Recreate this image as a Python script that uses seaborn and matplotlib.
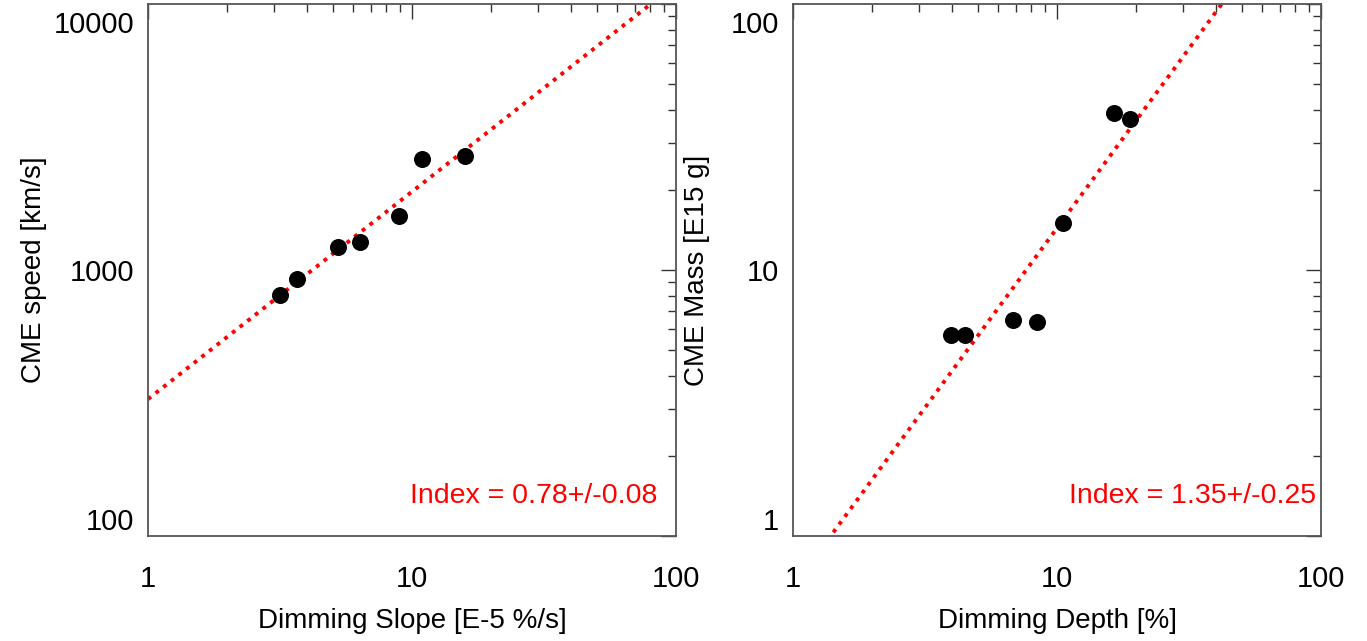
import numpy as np
import pandas as pd
import matplotlib
matplotlib.use("Agg")
import matplotlib.pyplot as plt
import matplotlib.transforms as mtrans
import seaborn as sns
from matplotlib.ticker import LogLocator, NullFormatter, FixedLocator, FixedFormatter

# ---- data ----
slope = [3.16, 3.68, 5.26, 6.35, 8.95, 10.94, 15.88]          # Dimming Slope [E-5 %/s]
speed = [805, 922, 1217, 1271, 1596, 2606, 2684]               # CME speed [km/s]
depth = [3.96, 4.48, 6.83, 8.42, 10.57, 16.4, 18.9]            # Dimming Depth [%]
mass = [5.70, 5.70, 6.49, 6.39, 14.98, 39.0, 36.97]            # CME Mass [E15 g]

fit_left = {"amp": 327.0, "index": 0.78, "err": 0.08}
fit_right = {"amp": 0.642, "index": 1.35, "err": 0.25}

x_ticks = [1, 10, 100]
left_yticks = [100, 1000, 10000]
right_yticks = [1, 10, 100]

sns.set_style("white")
plt.rcParams["font.family"] = ["Liberation Sans", "DejaVu Sans"]
plt.rcParams["text.color"] = "black"
plt.rcParams["axes.labelcolor"] = "black"
plt.rcParams["xtick.color"] = "black"
plt.rcParams["ytick.color"] = "black"

W, H = 1367, 641
fig = plt.figure(figsize=(W / 100, H / 100), dpi=100)

def add_axes(left_px, right_px, top_px, bottom_px):
    return fig.add_axes([left_px / W, 1 - bottom_px / H,
                         (right_px - left_px) / W, (bottom_px - top_px) / H])

ax1 = add_axes(148, 676, 4, 536)
ax2 = add_axes(793, 1321, 4, 536)

TICK_FS = 21
LABEL_FS = 20
INDEX_FS = 20.5

def panel(ax, x, y, fit, ylim, yticks, xlabel, ylabel, index_x):
    df = pd.DataFrame({"x": x, "y": y})
    sns.scatterplot(data=df, x="x", y="y", ax=ax, s=150, color="black",
                    edgecolor="black", linewidth=0, zorder=3)
    xf = np.logspace(0, 2, 200)
    fl = pd.DataFrame({"x": xf, "y": fit["amp"] * xf ** fit["index"]})
    sns.lineplot(data=fl, x="x", y="y", ax=ax, color="red", lw=2.8,
                 linestyle=(0, (1.0, 1.5)), zorder=2)
    ax.set_xscale("log")
    ax.set_yscale("log")
    ax.set_xlim(1, 100)
    ax.set_ylim(*ylim)
    ax.xaxis.set_major_locator(FixedLocator(x_ticks))
    ax.xaxis.set_major_formatter(FixedFormatter([str(t) for t in x_ticks]))
    ax.yaxis.set_major_locator(FixedLocator(yticks))
    ax.yaxis.set_major_formatter(FixedFormatter([str(t) for t in yticks]))
    ax.xaxis.set_minor_locator(LogLocator(base=10, subs=np.arange(2, 10)))
    ax.yaxis.set_minor_locator(LogLocator(base=10, subs=np.arange(2, 10)))
    ax.xaxis.set_minor_formatter(NullFormatter())
    ax.yaxis.set_minor_formatter(NullFormatter())
    ax.tick_params(which="both", direction="in", top=True, right=True,
                   color="#333333", width=1.0)
    ax.tick_params(which="major", length=11, labelsize=TICK_FS)
    ax.tick_params(which="minor", length=6)
    ax.tick_params(axis="x", which="major", pad=21)
    ax.tick_params(axis="y", which="major", pad=10)
    for sp in ax.spines.values():
        sp.set_color("#555555")
        sp.set_linewidth(1.3)
    ax.set_xlabel(xlabel, fontsize=LABEL_FS)
    ax.set_ylabel(ylabel, fontsize=LABEL_FS)
    ax.xaxis.set_label_coords(0.5, -0.136)
    labs = ax.get_yticklabels()
    labs[0].set_va("bottom")
    labs[-1].set_va("top")
    labs[-1].set_transform(labs[-1].get_transform() +
                           mtrans.ScaledTranslation(0, -5 / 72, fig.dpi_scale_trans))
    ax.text(index_x, 0.075,
            f"Index = {fit['index']:.2f}+/-{fit['err']:.2f}",
            transform=ax.transAxes, ha="right", va="center",
            color="red", fontsize=INDEX_FS)
    ax.set_facecolor("white")

panel(ax1, slope, speed, fit_left, (100, 10000), left_yticks,
      "Dimming Slope [E-5 %/s]", "CME speed [km/s]", 0.964)
panel(ax2, depth, mass, fit_right, (1, 100), right_yticks,
      "Dimming Depth [%]", "CME Mass [E15 g]", 0.99)
ax1.yaxis.set_label_coords(-0.191, 0.5)
ax2.yaxis.set_label_coords(-0.157, 0.5)

fig.savefig("out.png", dpi=100, facecolor="white")
